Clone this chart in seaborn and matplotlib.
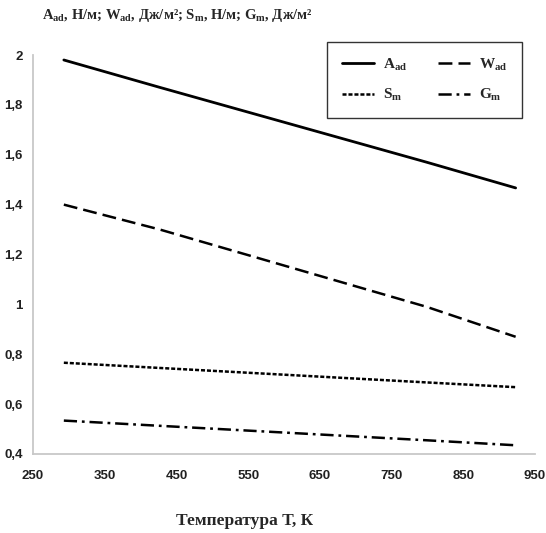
import numpy as np
import pandas as pd
import seaborn as sns
import matplotlib
matplotlib.use("Agg")
import matplotlib.pyplot as plt
from matplotlib import font_manager
from matplotlib.ticker import FuncFormatter, MultipleLocator

# values
temp = [293, 427, 613, 799, 923]
a_ad = [1.98, 1.87, 1.72, 1.57, 1.467]
w_ad = [1.40, 1.30, 1.145, 0.99, 0.87]
s_m = [0.766, 0.745, 0.716, 0.687, 0.668]
g_m = [0.534, 0.513, 0.484, 0.455, 0.435]

labels = ["A$_{ad}$", "W$_{ad}$", "S$_{m}$", "G$_{m}$"]
x_ticks = [250, 350, 450, 550, 650, 750, 850, 950]

sns.set_style("white")
names = {f.name for f in font_manager.fontManager.ttflist}
tick_font = "Liberation Sans Narrow" if "Liberation Sans Narrow" in names else "Liberation Sans"
plt.rcParams["font.family"] = ["Liberation Serif", "DejaVu Sans"]
plt.rcParams["mathtext.fontset"] = "custom"
plt.rcParams["mathtext.rm"] = "Liberation Serif:bold"
plt.rcParams["mathtext.it"] = "Liberation Serif:bold"
plt.rcParams["mathtext.bf"] = "Liberation Serif:bold"
plt.rcParams["mathtext.default"] = "rm"
plt.rcParams["lines.scale_dashes"] = False

fig = plt.figure(figsize=(5.46, 5.33), dpi=100)
ax = fig.add_axes([33 / 546, 1 - 454 / 533, 502 / 546, 399 / 533])

styles = {
    "A": dict(linestyle="-", linewidth=2.0),
    "W": dict(linestyle=(0, (10, 4.4)), linewidth=1.8),
    "S": dict(linestyle=(0, (2.9, 1.4)), linewidth=1.8),
    "G": dict(linestyle=(0, (9.5, 3.5, 2, 3.5)), linewidth=1.8),
}
series = {"A": a_ad, "W": w_ad, "S": s_m, "G": g_m}
for (key, vals), lab in zip(series.items(), labels):
    sns.lineplot(x=temp, y=vals, ax=ax, color="black", label=lab, **styles[key])

ax.set_xlim(250, 950)
ax.set_ylim(0.4, 2.0)
ax.set_xticks(x_ticks)
ax.yaxis.set_major_locator(MultipleLocator(0.2))
ax.yaxis.set_major_formatter(FuncFormatter(lambda v, p: f"{v:g}".replace(".", ",")))
ax.set_xlabel("")
ax.set_ylabel("")

for side in ["top", "right"]:
    ax.spines[side].set_visible(False)
for side in ["left", "bottom"]:
    ax.spines[side].set_color("#c8c8c8")
    ax.spines[side].set_linewidth(1.3)
ax.tick_params(axis="both", which="major", direction="out", length=3.5, width=1.2,
               color="#c8c8c8", labelcolor="#202020")
ax.tick_params(axis="x", pad=8)
ax.tick_params(axis="y", pad=4)
for t in ax.get_xticklabels() + ax.get_yticklabels():
    t.set_fontfamily(tick_font)
    t.set_fontweight("bold")
    t.set_fontsize(9.5)

handles, labs = ax.get_legend_handles_labels()
order = [0, 2, 1, 3]
leg = ax.legend([handles[i] for i in order], [labs[i] for i in order], ncol=2,
                loc="upper left", bbox_to_anchor=((327 - 33) / 502, (454 - 42) / 399),
                frameon=True, fancybox=False, edgecolor="black", handlelength=2.15,
                columnspacing=2.0, handletextpad=0.55, borderpad=0.95, labelspacing=0.95,
                borderaxespad=0,
                prop=dict(family="Liberation Serif", weight="bold", size=11))
leg.get_frame().set_linewidth(1.0)

fig.text(42 / 546, 1 - 15 / 533, "A$_{ad}$, Н/м; W$_{ad}$, Дж/м²; S$_{m}$, Н/м; G$_{m}$, Дж/м²",
         ha="left", va="center", fontsize=10.5, fontweight="bold")
fig.text(245 / 546, 1 - 521 / 533, "Температура Т, К", ha="center", va="center",
         fontsize=12.5, fontweight="bold")

fig.savefig("out.png", dpi=100)
